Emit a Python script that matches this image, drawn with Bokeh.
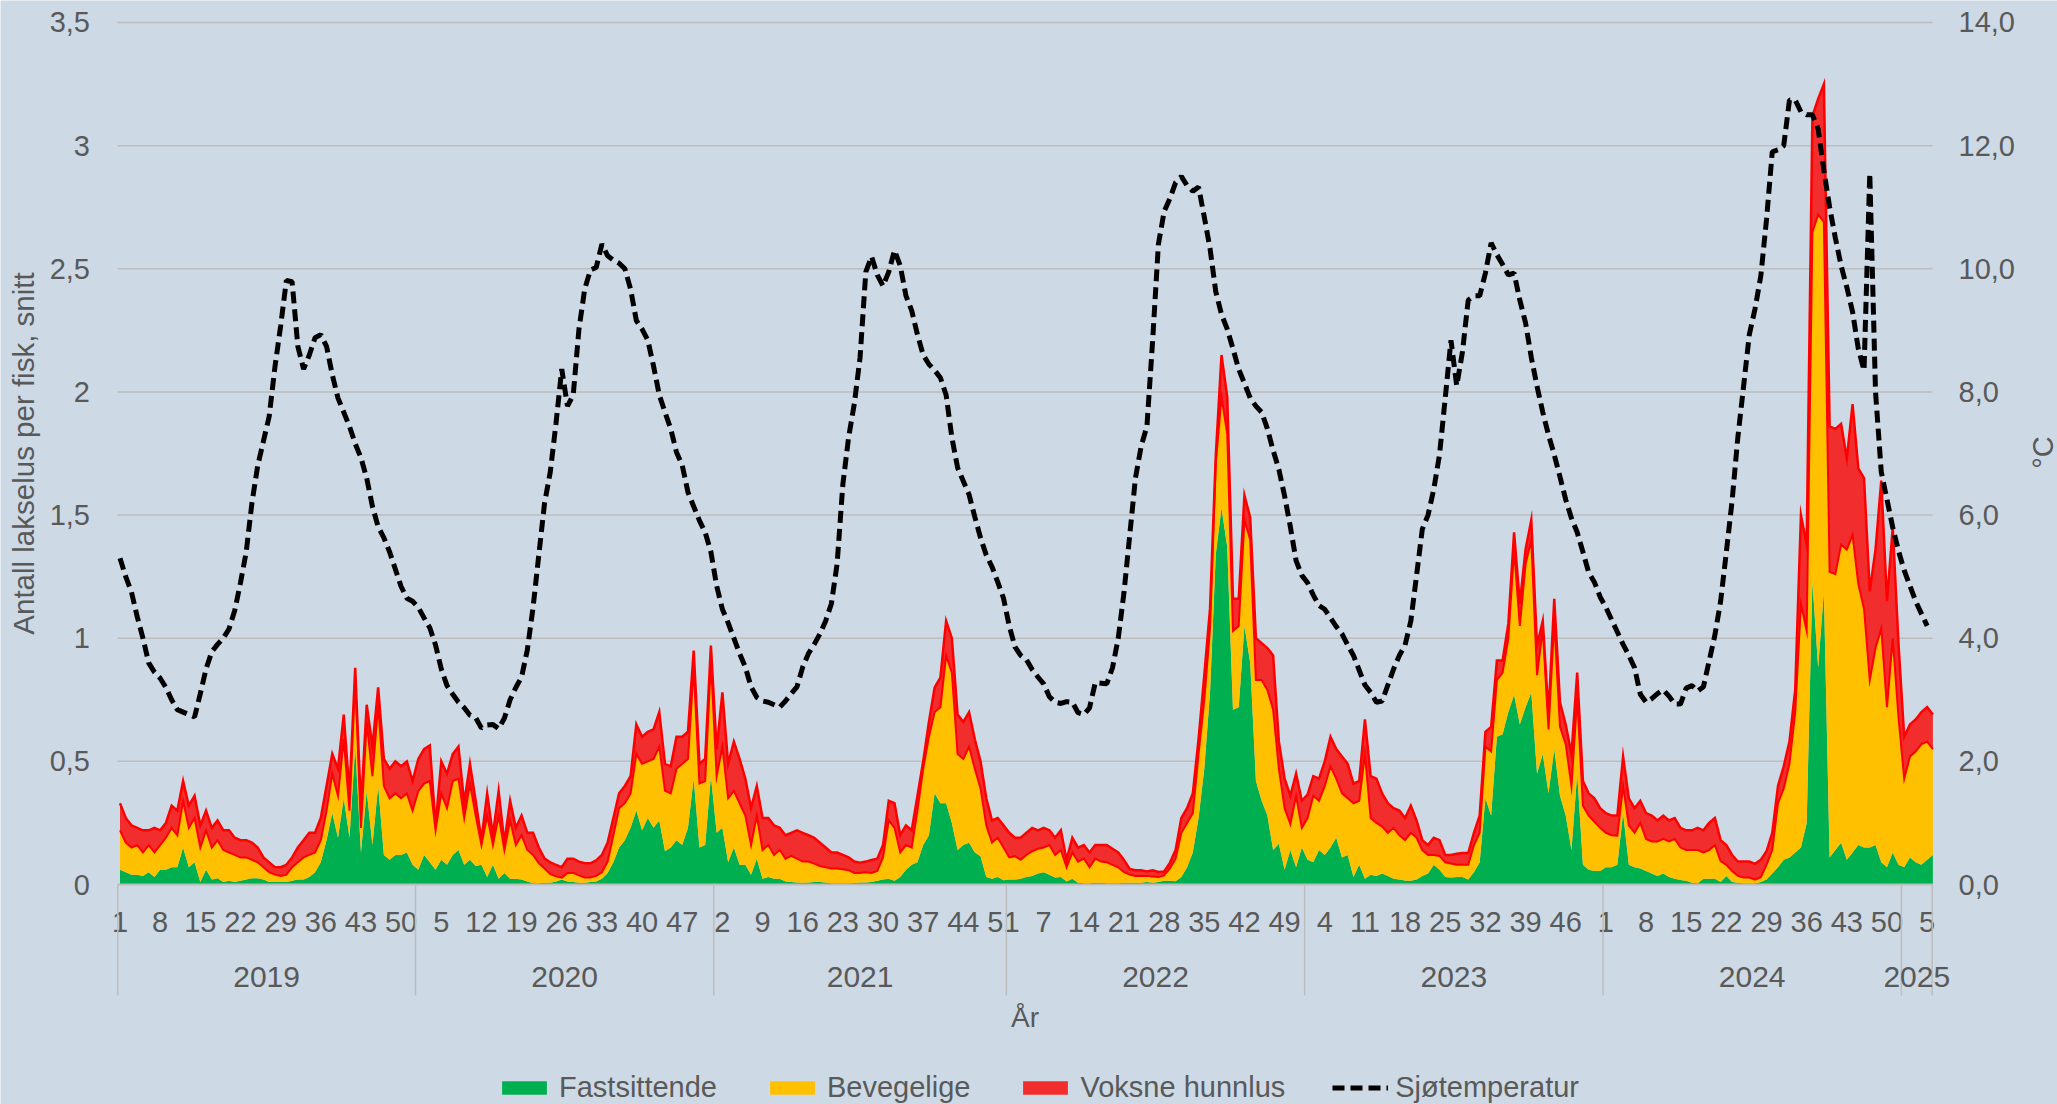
import math
import numpy as np
from bokeh.plotting import figure
from bokeh.models import (ColumnDataSource, Range1d, Legend, LegendItem)
from bokeh.transform import stack
from bokeh.core.properties import value
from bokeh.embed import file_html
from bokeh.resources import INLINE

# ---------------- data (weekly averages) ----------------
years = ["2019", "2020", "2021", "2022", "2023", "2024", "2025"]

fast_2019 = [.06,.05,.04,.04,.035,.05,.03,.06,.06,.07,.07,.15,.07,.09,.01,.06,.02,.025,.01,.015,.01,.015,.02,.025,.025,.02,.01,.01,.01,.01,.015,.02,.02,.03,.05,.09,.18,.29,.19,.35,.19,.56,.13,.38,.16,.40,.12,.10,.12,.12,.13,.08]
beveg_2019 = [.16,.12,.11,.12,.095,.11,.10,.10,.13,.16,.13,.19,.16,.18,.14,.16,.13,.155,.13,.115,.11,.095,.09,.075,.065,.05,.04,.03,.025,.03,.055,.07,.09,.09,.08,.09,.12,.16,.17,.24,.11,.28,.10,.28,.28,.33,.28,.25,.25,.23,.24,.22]
voksne_2019 = [.11,.10,.09,.07,.09,.06,.10,.06,.06,.09,.10,.08,.09,.09,.09,.08,.08,.08,.08,.09,.07,.07,.07,.07,.06,.04,.04,.03,.035,.04,.04,.06,.07,.09,.08,.09,.10,.08,.11,.10,.07,.04,.08,.07,.12,.07,.11,.12,.13,.13,.13,.12]
temp_2019 = [5.3,5.0,4.75,4.35,4.0,3.6,3.45,3.35,3.2,3.0,2.84,2.8,2.76,2.72,3.1,3.5,3.78,3.9,4.0,4.15,4.45,4.9,5.4,6.2,6.8,7.2,7.6,8.4,9.07,9.81,9.79,8.74,8.37,8.6,8.88,8.93,8.74,8.28,7.9,7.67,7.44,7.16,6.93,6.6,6.14,5.81,5.63,5.4,5.12,4.84,4.65,4.6]

fast_2020 = [.06,.12,.09,.06,.10,.08,.12,.14,.08,.10,.075,.08,.03,.08,.023,.047,.023,.023,.02,.012,.005,.005,.007,.007,.012,.02,.012,.01,.007,.007,.01,.012,.023,.047,.09,.15,.18,.23,.30,.22,.27,.23,.26,.135,.15,.18,.16,.23,.43,.15,.16,.44]
beveg_2020 = [.32,.29,.33,.16,.27,.23,.30,.29,.19,.31,.205,.08,.25,.08,.257,.093,.237,.137,.18,.128,.115,.081,.058,.035,.021,.008,.035,.037,.03,.021,.018,.023,.027,.046,.11,.16,.15,.14,.23,.27,.23,.28,.30,.245,.22,.29,.33,.28,.45,.26,.26,.47]
voksne_2020 = [.13,.14,.145,.02,.13,.14,.11,.13,.06,.08,.06,.02,.09,.04,.10,.03,.08,.07,.08,.07,.09,.064,.04,.048,.047,.042,.058,.058,.056,.058,.058,.063,.07,.077,.07,.06,.07,.07,.12,.11,.12,.12,.14,.11,.11,.13,.11,.11,.07,.08,.09,.06]
temp_2020 = [4.5,4.33,4.17,3.89,3.5,3.23,3.09,2.96,2.87,2.75,2.71,2.54,2.59,2.6,2.53,2.7,3.0,3.2,3.37,3.81,4.5,5.35,6.19,6.7,7.49,8.37,7.77,7.95,9.02,9.67,9.98,10.02,10.4,10.21,10.14,10.09,10.0,9.67,9.16,9.02,8.84,8.42,7.95,7.67,7.4,7.02,6.81,6.37,6.14,5.91,5.72,5.4]

fast_2021 = [.21,.23,.09,.15,.08,.08,.04,.105,.023,.03,.023,.023,.012,.01,.008,.007,.008,.01,.01,.008,.005,.005,.005,.005,.006,.008,.008,.01,.015,.02,.023,.015,.03,.06,.08,.09,.16,.20,.37,.33,.33,.25,.14,.16,.17,.13,.115,.03,.023,.03,.017]
beveg_2021 = [.23,.33,.26,.23,.25,.20,.12,.175,.117,.13,.097,.117,.093,.106,.097,.086,.085,.075,.065,.062,.06,.06,.057,.053,.041,.039,.042,.037,.04,.09,.237,.215,.10,.10,.07,.21,.31,.40,.33,.39,.60,.61,.39,.35,.39,.34,.275,.21,.147,.16,.133]
voksne_2021 = [.11,.22,.14,.20,.18,.15,.15,.12,.13,.11,.12,.09,.095,.094,.115,.117,.107,.105,.095,.08,.065,.065,.058,.052,.046,.041,.043,.053,.05,.05,.08,.10,.07,.08,.07,.06,.03,.06,.10,.12,.14,.14,.16,.15,.14,.12,.11,.11,.09,.08,.09]
temp_2021 = [4.85,4.47,4.25,4.0,3.75,3.53,3.21,3.04,2.98,2.96,2.92,2.88,2.98,3.1,3.21,3.53,3.75,3.9,4.07,4.28,4.56,5.21,6.5,7.26,7.81,8.56,9.95,10.2,9.9,9.72,9.95,10.3,10.05,9.56,9.32,8.93,8.6,8.45,8.35,8.23,7.95,7.26,6.77,6.55,6.33,5.97,5.63,5.35,5.16,4.91,4.65]

fast_2022 = [.02,.02,.023,.03,.035,.045,.05,.04,.028,.03,.012,.023,.007,.005,.005,.007,.007,.005,.005,.005,.007,.007,.007,.007,.01,.007,.01,.015,.015,.013,.03,.07,.13,.27,.47,.78,1.34,1.53,1.37,.71,.72,1.05,.90,.42,.34,.28,.14,.165,.06,.14,.07,.15]
beveg_2022 = [.09,.095,.077,.09,.10,.10,.10,.12,.092,.11,.058,.107,.086,.10,.065,.098,.086,.085,.075,.065,.043,.033,.028,.028,.025,.025,.02,.022,.05,.092,.18,.18,.16,.26,.28,.26,.37,.45,.46,.32,.33,.43,.50,.41,.49,.51,.57,.305,.25,.105,.29,.08]
voksne_2022 = [.10,.075,.09,.09,.095,.075,.08,.06,.07,.08,.03,.06,.057,.055,.06,.055,.067,.07,.065,.06,.05,.023,.023,.023,.018,.026,.021,.016,.023,.035,.06,.06,.08,.06,.10,.08,.03,.17,.15,.13,.11,.10,.09,.17,.15,.17,.22,.11,.12,.115,.09,.11]
temp_2022 = [4.2,3.86,3.72,3.65,3.49,3.37,3.26,3.05,2.96,2.94,2.97,2.96,2.79,2.76,2.87,3.28,3.27,3.26,3.52,4.0,4.74,5.67,6.6,7.12,7.44,8.84,10.4,10.93,11.14,11.4,11.5,11.35,11.26,11.33,10.84,10.33,9.63,9.26,9.02,8.7,8.37,8.14,7.9,7.77,7.67,7.4,7.05,6.74,6.31,5.81,5.26,5.02]

fast_2023 = [.10,.09,.14,.12,.15,.19,.11,.12,.03,.08,.023,.04,.035,.045,.035,.023,.02,.016,.015,.02,.035,.045,.08,.06,.03,.028,.03,.03,.02,.05,.09,.35,.28,.60,.61,.70,.77,.65,.72,.78,.45,.53,.37,.55,.36,.28,.14,.45,.08,.06,.055,.055]
beveg_2023 = [.17,.27,.20,.28,.33,.24,.26,.23,.30,.26,.507,.23,.215,.19,.175,.207,.18,.164,.195,.17,.105,.075,.04,.056,.06,.057,.05,.05,.06,.11,.12,.21,.26,.23,.25,.30,.59,.40,.58,.62,.40,.51,.26,.52,.28,.29,.26,.31,.24,.22,.20,.175]
voksne_2023 = [.095,.08,.09,.10,.12,.12,.15,.14,.08,.08,.14,.17,.18,.135,.12,.08,.10,.09,.11,.07,.04,.04,.07,.064,.03,.035,.045,.048,.048,.05,.07,.06,.10,.08,.05,.06,.07,.09,.06,.08,.12,.03,.06,.09,.10,.08,.13,.10,.10,.09,.095,.08]
temp_2023 = [4.9,4.7,4.53,4.47,4.33,4.19,4.07,3.89,3.72,3.48,3.24,3.12,2.96,2.98,3.24,3.5,3.72,3.89,4.28,5.02,5.77,6.0,6.42,6.98,7.9,8.84,8.1,8.65,9.49,9.56,9.56,9.93,10.42,10.23,10.07,9.9,9.93,9.49,9.12,8.56,8.09,7.67,7.3,6.98,6.62,6.25,5.95,5.72,5.4,5.07,4.91,4.67]

fast_2024 = [.07,.07,.08,.29,.08,.07,.065,.055,.045,.035,.045,.03,.023,.018,.015,.007,.005,.023,.023,.023,.01,.035,.01,.007,.005,.005,.005,.01,.02,.045,.07,.10,.11,.13,.15,.25,1.23,.88,1.19,.11,.14,.17,.10,.13,.16,.15,.15,.16,.09,.07,.13,.08]
beveg_2024 = [.14,.13,.118,.11,.16,.14,.185,.13,.13,.14,.14,.145,.162,.132,.125,.133,.135,.107,.117,.137,.085,.045,.045,.028,.023,.023,.015,.02,.06,.095,.26,.29,.38,.57,.99,.78,1.42,1.84,1.50,1.16,1.12,1.21,1.26,1.29,1.06,.97,.68,.80,.95,.65,.87,.60]
voksne_2024 = [.08,.08,.082,.12,.11,.10,.09,.105,.105,.085,.095,.085,.085,.08,.08,.08,.09,.09,.11,.11,.085,.08,.065,.058,.065,.065,.064,.07,.055,.07,.07,.09,.09,.09,.36,.35,.47,.47,.56,.59,.59,.49,.37,.53,.47,.53,.36,.40,.60,.43,.45,.30]
temp_2024 = [4.5,4.3,4.1,3.9,3.72,3.52,3.09,2.96,3.02,3.1,3.16,3.06,2.93,2.93,3.19,3.23,3.14,3.21,3.63,4.05,4.6,5.4,6.23,7.26,8.09,8.93,9.35,9.88,10.8,11.9,11.93,12.0,12.74,12.74,12.55,12.5,12.5,12.27,11.6,11.0,10.5,10.05,9.7,9.3,8.7,8.35,11.55,8.0,6.7,6.25,5.8,5.42]

fast_2025 = [.07,.11,.09,.08,.10,.12]
beveg_2025 = [.36,.41,.45,.49,.48,.43]
voksne_2025 = [.17,.13,.13,.13,.14,.14]
temp_2025 = [5.1,4.85,4.6,4.4,4.2,float("nan")]

fast_by_year = dict(zip(years, [fast_2019, fast_2020, fast_2021, fast_2022, fast_2023, fast_2024, fast_2025]))
beveg_by_year = dict(zip(years, [beveg_2019, beveg_2020, beveg_2021, beveg_2022, beveg_2023, beveg_2024, beveg_2025]))
voksne_by_year = dict(zip(years, [voksne_2019, voksne_2020, voksne_2021, voksne_2022, voksne_2023, voksne_2024, voksne_2025]))
temp_by_year = dict(zip(years, [temp_2019, temp_2020, temp_2021, temp_2022, temp_2023, temp_2024, temp_2025]))

y_ticks = [0, 0.5, 1, 1.5, 2, 2.5, 3, 3.5]
y_tick_labels = ["0", "0,5", "1", "1,5", "2", "2,5", "3", "3,5"]
t_ticks = [0, 2, 4, 6, 8, 10, 12, 14]
t_tick_labels = ["0,0", "2,0", "4,0", "6,0", "8,0", "10,0", "12,0", "14,0"]
label_every = 7

# ---------------- build table ----------------
fast, beveg, voksne, temp, week = [], [], [], [], []
year_start = []
for yr in years:
    year_start.append(len(fast))
    n = len(fast_by_year[yr])
    fast += fast_by_year[yr]
    beveg += beveg_by_year[yr]
    voksne += voksne_by_year[yr]
    temp += temp_by_year[yr]
    week += list(range(1, n + 1))
N = len(fast)
xs = list(range(N))
src = ColumnDataSource(dict(x=xs, fast=fast, beveg=beveg, voksne=voksne,
                            temp=np.array(temp, dtype=float)))

# ---------------- geometry & style ----------------
BG = "#CDD9E5"
GRID = "#BDBDBD"
TXT = "#595959"
FONT = "Liberation Sans"
GREEN, YELLOW, REDF, REDL = "#00B050", "#FFC000", "#F22D2D", "#FF0000"

W, H = 2057, 1104
PX_X = 5.737          # px per week
X_ORG = 119.5         # px of first week
PX_Y = 246.29         # px per unit (left axis)
Y_ORG = 884.0         # px of zero line
X0 = -X_ORG / PX_X
X1 = (W - X_ORG) / PX_X
YT = Y_ORG / PX_Y
Y0 = (Y_ORG - H) / PX_Y
T_SCALE = 14 / 3.5

def px2x(px):
    return (px - X_ORG) / PX_X

def px2y(py):
    return (Y_ORG - py) / PX_Y

XA, XB = px2x(117), px2x(1932)     # plot area extent

p = figure(width=W, height=H, output_backend="svg", toolbar_location=None,
           x_range=Range1d(X0, X1), y_range=Range1d(Y0, YT),
           x_axis_location=None, y_axis_location=None,
           min_border=0, min_border_left=0, min_border_right=0,
           min_border_top=0, min_border_bottom=0,
           background_fill_color=BG, border_fill_color=BG, outline_line_color=None)
p.grid.visible = False
p.extra_y_ranges = {"temp": Range1d(Y0 * T_SCALE, YT * T_SCALE)}

# gridlines + zero line
p.segment(x0=[XA] * 7, y0=y_ticks[1:], x1=[XB] * 7, y1=y_ticks[1:],
          line_color=GRID, line_width=1.5)

# stacked areas
areas = p.varea_stack(["fast", "beveg", "voksne"], x="x", source=src,
                      color=[GREEN, YELLOW, REDF])
p.line(x="x", y=stack("fast", "beveg"), source=src, line_color=REDL,
       line_width=2, line_join="miter")
p.line(x="x", y=stack("fast", "beveg", "voksne"), source=src, line_color=REDL,
       line_width=2.5, line_join="miter")
p.segment(x0=[XA], y0=[0], x1=[XB], y1=[0], line_color=GRID, line_width=2)

# temperature
tr = p.line(x="x", y="temp", y_range_name="temp", source=src, line_color="black",
            line_width=5, line_dash="12 6")

# left axis tick labels and title
txt = dict(text_font=value(FONT), text_color=TXT)
p.text(x=[px2x(89.5)] * len(y_ticks), y=y_ticks, text=y_tick_labels,
       text_font_size="29px", text_align="right", text_baseline="middle", **txt)
p.text(x=[px2x(22.5)], y=[px2y(453)], text=["Antall lakselus per fisk, snitt"],
       angle=math.pi / 2, text_font_size="29.5px", text_align="center",
       text_baseline="middle", **txt)

# right axis tick labels and title
p.text(x=[px2x(1958)] * len(t_ticks), y=t_ticks, text=t_tick_labels, y_range_name="temp",
       text_font_size="29px", text_align="left", text_baseline="middle", **txt)
p.text(x=[px2x(2042)], y=[px2y(452)], text=["°C"], angle=math.pi / 2,
       text_font_size="29px", text_align="center", text_baseline="middle", **txt)

# category axis: week numbers, year groups, separators, title
WEEK_Y, YEAR_Y, SEP_Y, TITLE_Y = px2y(921.7), px2y(976.7), px2y(995), px2y(1017)
tick_idx = list(range(0, N, label_every))
p.text(x=tick_idx, y=[WEEK_Y] * len(tick_idx), text=[str(week[i]) for i in tick_idx],
       text_font_size="29px", text_align="center", text_baseline="middle", **txt)

edges = [s - 0.5 for s in year_start] + [N - 0.5]
edges = [min(max(e, XA + 0.05), XB - 0.05) for e in edges]
p.segment(x0=edges, y0=[0] * len(edges), x1=edges, y1=[SEP_Y] * len(edges),
          line_color=GRID, line_width=1.5)
p.text(x=[(edges[i] + edges[i + 1]) / 2 for i in range(len(years))],
       y=[YEAR_Y] * len(years), text=years,
       text_font_size="30px", text_align="center", text_baseline="middle", **txt)
p.text(x=[(XA + XB) / 2], y=[TITLE_Y], text=["År"],
       text_font_size="28px", text_align="center", text_baseline="middle", **txt)

legend = Legend(items=[LegendItem(label="Fastsittende", renderers=[areas[0]]),
                       LegendItem(label="Bevegelige", renderers=[areas[1]]),
                       LegendItem(label="Voksne hunnlus", renderers=[areas[2]]),
                       LegendItem(label="Sjøtemperatur", renderers=[tr])],
                orientation="horizontal", location=(496, 0),
                glyph_width=56, glyph_height=17, label_standoff=7, spacing=47,
                padding=0, margin=0, border_line_color=None, background_fill_alpha=0,
                label_text_font=FONT, label_text_font_size="29px", label_text_color=TXT)
p.add_layout(legend)

open("out.html", "w").write(file_html(p, INLINE))
